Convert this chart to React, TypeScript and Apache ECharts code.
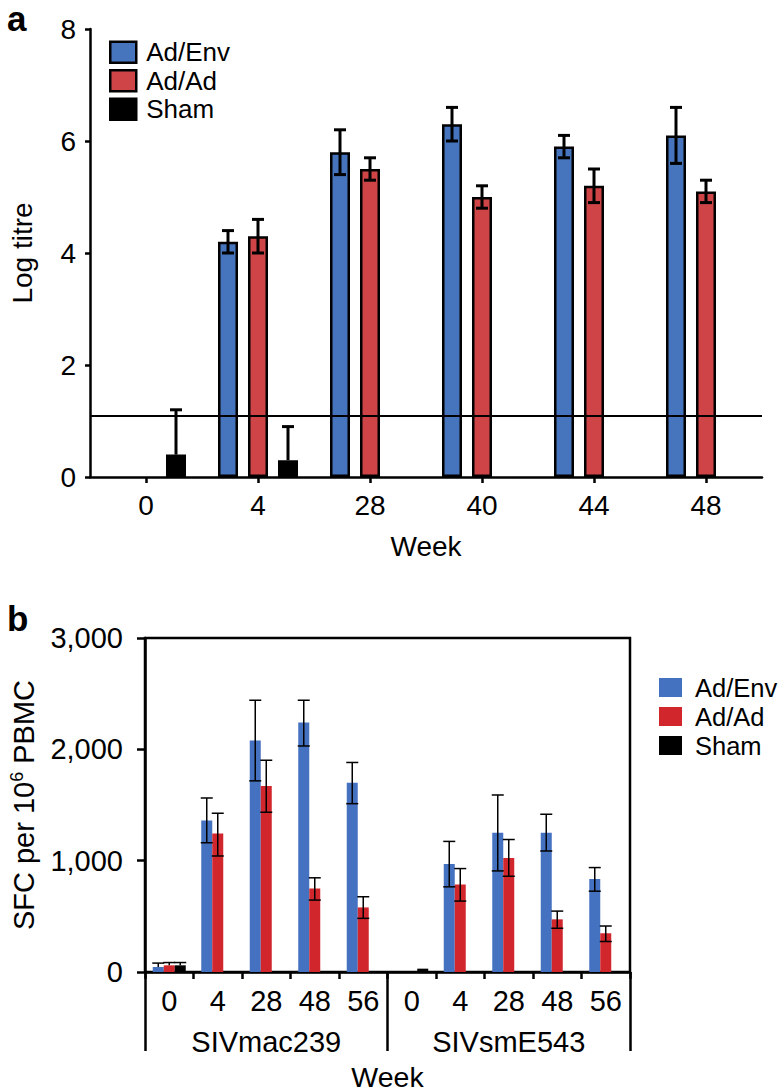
import React, { useEffect, useRef } from "react";
import * as echarts from "echarts";

// ---------- Panel a data ----------
const weeksA = ["0", "4", "28", "40", "44", "48"];
const adEnvA = [null, 4.2, 5.8, 6.3, 5.9, 6.1];
const adEnvAHi = [null, 4.4, 6.2, 6.6, 6.1, 6.6];
const adEnvALo = [null, 4.0, 5.4, 6.0, 5.7, 5.6];
const adAdA = [null, 4.3, 5.5, 5.0, 5.2, 5.1];
const adAdAHi = [null, 4.6, 5.7, 5.2, 5.5, 5.3];
const adAdALo = [null, 4.0, 5.3, 4.8, 4.9, 4.9];
const shamA = [0.4, 0.3, null, null, null, null];
const shamAHi = [1.2, 0.9, null, null, null, null];
const shamALo = [0.4, 0.3, null, null, null, null];
const thresholdA = 1.1;
const yTicksA = { min: 0, max: 8, interval: 2 };

// ---------- Panel b data ----------
const weeksB = ["0", "4", "28", "48", "56", "0", "4", "28", "48", "56"];
const strainsB = ["SIVmac239", "SIVsmE543"];
const adEnvB = [45, 1360, 2080, 2240, 1700, null, 970, 1250, 1250, 835];
const adEnvBHi = [80, 1563, 2441, 2441, 1882, null, 1173, 1590, 1417, 938];
const adEnvBLo = [45, 1161, 1717, 2030, 1512, null, 765, 908, 1087, 726];
const adAdB = [60, 1245, 1670, 750, 580, null, 785, 1025, 473, 348];
const adAdBHi = [85, 1426, 1902, 846, 676, null, 929, 1190, 547, 413];
const adAdBLo = [60, 1042, 1435, 646, 482, null, 637, 860, 393, 274];
const shamB = [60, null, null, null, null, 30, null, null, null, null];
const shamBHi = [85, null, null, null, null, 30, null, null, null, null];
const shamBLo = [60, null, null, null, null, 30, null, null, null, null];
const yTicksB = { min: 0, max: 3000, interval: 1000 };

const seriesNames = ["Ad/Env", "Ad/Ad", "Sham"];

const FONT = "'Liberation Sans', Arial, Helvetica, sans-serif";
const BLUE_A = "#4674BD";
const RED_A = "#CE4447";
const BLUE_B = "#4571C1";
const RED_B = "#D1262C";
const BLACK = "#000000";

function errData(vals: (number | null)[], hi: (number | null)[], lo: (number | null)[]) {
  const out: number[][] = [];
  vals.forEach((v, i) => {
    if (v != null && hi[i] != null && lo[i] != null) out.push([i, hi[i] as number, lo[i] as number, v]);
  });
  return out;
}

function makeErr(offset: number, cap: number, lw: number) {
  return (params: any, api: any) => {
    const i = api.value(0);
    const hi = api.value(1);
    const lo = api.value(2);
    const v = api.value(3);
    const top = api.coord([i, hi]);
    const bot = api.coord([i, lo]);
    const x = top[0] + offset;
    const style = { stroke: "#000", lineWidth: lw };
    const children: any[] = [];
    if (hi > v || lo < v) {
      children.push({ type: "line", shape: { x1: x, y1: top[1], x2: x, y2: bot[1] }, style });
    }
    if (hi > v) children.push({ type: "line", shape: { x1: x - cap, y1: top[1], x2: x + cap, y2: top[1] }, style });
    if (lo < v) children.push({ type: "line", shape: { x1: x - cap, y1: bot[1], x2: x + cap, y2: bot[1] }, style });
    return { type: "group", children };
  };
}

export default function App() {
  const ref = useRef<HTMLDivElement>(null);
  useEffect(() => {
    if (!ref.current) return;
    const chart = echarts.init(ref.current, null, { renderer: "svg" });
    const axisLineStyle = { color: "#000", width: 2.5 };
    const barBorderA = { borderColor: "#000", borderWidth: 2.5 };
    const barWA = 20;
    const offA = [-30, 0, 30];
    const offB = [-11, 0, 11];

    const option: any = {
      animation: false,
      textStyle: { fontFamily: FONT, color: "#000" },
      graphic: [
        { type: "text", left: 7, top: 1, style: { text: "a", font: `bold 35px ${FONT}`, fill: "#000" } },
        { type: "text", left: 7, top: 601, style: { text: "b", font: `bold 35px ${FONT}`, fill: "#000" } },
      ],
      legend: [
        {
          left: 109,
          top: 38,
          padding: 0,
          orient: "vertical",
          itemWidth: 26,
          itemHeight: 21,
          itemGap: 0,
          icon: "rect",
          selectedMode: false,
          textStyle: { fontSize: 26, lineHeight: 28.5, color: "#000", fontFamily: FONT, padding: [0, 0, 0, 5] },
          data: [
            { name: seriesNames[0], itemStyle: { color: BLUE_A, borderColor: "#000", borderWidth: 2.5 } },
            { name: seriesNames[1], itemStyle: { color: RED_A, borderColor: "#000", borderWidth: 2.5 } },
            { name: seriesNames[2], itemStyle: { color: BLACK, borderColor: "#000", borderWidth: 2.5 } },
          ],
        },
        {
          left: 659,
          top: 673,
          padding: 0,
          orient: "vertical",
          itemWidth: 23,
          itemHeight: 19,
          itemGap: 0,
          icon: "rect",
          selectedMode: false,
          textStyle: { fontSize: 25.5, lineHeight: 29, color: "#000", fontFamily: FONT, padding: [0, 0, 0, 8] },
          data: [
            { name: seriesNames[0], itemStyle: { color: BLUE_B, borderWidth: 0 } },
            { name: seriesNames[1], itemStyle: { color: RED_B, borderWidth: 0 } },
            { name: seriesNames[2], itemStyle: { color: BLACK, borderWidth: 0 } },
          ],
        },
      ],
      grid: [
        { left: 89, top: 29, width: 673, height: 448 },
        {
          left: 143,
          top: 638,
          width: 487,
          height: 336,
          show: true,
          borderColor: "#000",
          borderWidth: 2.5,
          backgroundColor: "transparent",
        },
      ],
      xAxis: [
        {
          type: "category",
          gridIndex: 0,
          data: weeksA,
          axisLine: { lineStyle: axisLineStyle },
          axisTick: { show: true, alignWithLabel: true, length: 6, lineStyle: { width: 2.5, color: "#000" } },
          axisLabel: { fontSize: 28, color: "#000", margin: 14, fontFamily: FONT },
          name: "Week",
          nameLocation: "middle",
          nameGap: 55,
          nameTextStyle: { fontSize: 28, color: "#000", fontFamily: FONT },
        },
        {
          type: "category",
          gridIndex: 1,
          data: weeksB,
          axisLine: { lineStyle: axisLineStyle },
          axisTick: { show: true, interval: 0, length: 7, lineStyle: { width: 2.5, color: "#000" } },
          axisLabel: { interval: 0, fontSize: 29, color: "#000", margin: 14, fontFamily: FONT },
        },
        {
          type: "category",
          gridIndex: 1,
          position: "bottom",
          offset: 0,
          data: strainsB,
          axisLine: { show: true, lineStyle: { color: "rgba(0,0,0,0)", width: 0 } },
          axisTick: { show: true, interval: 0, length: 79, lineStyle: { width: 2.5, color: "#000" } },
          axisLabel: { interval: 0, fontSize: 29, color: "#000", margin: 55, fontFamily: FONT },
          name: "Week",
          nameLocation: "middle",
          nameGap: 90,
          nameTextStyle: { fontSize: 28.5, color: "#000", fontFamily: FONT },
        },
      ],
      yAxis: [
        {
          type: "value",
          gridIndex: 0,
          ...yTicksA,
          splitLine: { show: false },
          axisLine: { show: true, lineStyle: axisLineStyle },
          axisTick: { show: true, length: 5, lineStyle: { width: 2.5, color: "#000" } },
          axisLabel: { fontSize: 28, color: "#000", margin: 14, fontFamily: FONT },
          name: "Log titre",
          nameLocation: "middle",
          nameGap: 54,
          nameTextStyle: { fontSize: 28, color: "#000", fontFamily: FONT },
        },
        {
          type: "value",
          gridIndex: 1,
          ...yTicksB,
          splitLine: { show: false },
          axisLine: { show: true, lineStyle: axisLineStyle },
          axisTick: { show: true, length: 8, lineStyle: { width: 2.5, color: "#000" } },
          axisLabel: {
            fontSize: 29,
            color: "#000",
            margin: 22,
            fontFamily: FONT,
            formatter: (v: number) => v.toLocaleString("en-US"),
          },
          name: "{a|SFC per 10}{s|6}{a| PBMC}",
          nameLocation: "middle",
          nameGap: 106,
          nameTextStyle: {
            fontFamily: FONT,
            color: "#000",
            rich: {
              a: { fontSize: 29, fontFamily: FONT, color: "#000" },
              s: { fontSize: 18, fontFamily: FONT, color: "#000", verticalAlign: "top", padding: [0, 0, 13, 0] },
            },
          },
        },
      ],
      series: [
        // Panel a bars
        {
          name: seriesNames[0],
          type: "bar",
          xAxisIndex: 0,
          yAxisIndex: 0,
          data: adEnvA,
          barWidth: barWA,
          barGap: "50%",
          itemStyle: { color: BLUE_A, ...barBorderA },
        },
        {
          name: seriesNames[1],
          type: "bar",
          xAxisIndex: 0,
          yAxisIndex: 0,
          data: adAdA,
          barWidth: barWA,
          barGap: "50%",
          itemStyle: { color: RED_A, ...barBorderA },
        },
        {
          name: seriesNames[2],
          type: "bar",
          xAxisIndex: 0,
          yAxisIndex: 0,
          data: shamA,
          barWidth: barWA,
          barGap: "50%",
          itemStyle: { color: BLACK, ...barBorderA },
          markLine: {
            silent: true,
            symbol: "none",
            label: { show: false },
            lineStyle: { color: "#000", width: 2.2, type: "solid" },
            data: [{ yAxis: thresholdA }],
          },
        },
        // Panel a error bars
        {
          type: "custom",
          xAxisIndex: 0,
          yAxisIndex: 0,
          z: 5,
          renderItem: makeErr(offA[0], 6, 3),
          encode: { x: 0, y: [1, 2] },
          data: errData(adEnvA, adEnvAHi, adEnvALo),
        },
        {
          type: "custom",
          xAxisIndex: 0,
          yAxisIndex: 0,
          z: 5,
          renderItem: makeErr(offA[1], 6, 3),
          encode: { x: 0, y: [1, 2] },
          data: errData(adAdA, adAdAHi, adAdALo),
        },
        {
          type: "custom",
          xAxisIndex: 0,
          yAxisIndex: 0,
          z: 5,
          renderItem: makeErr(offA[2], 6, 3),
          encode: { x: 0, y: [1, 2] },
          data: errData(shamA, shamAHi, shamALo),
        },
        // Panel b bars
        {
          name: seriesNames[0],
          type: "bar",
          xAxisIndex: 1,
          yAxisIndex: 1,
          data: adEnvB,
          barWidth: 11,
          barGap: "0%",
          itemStyle: { color: BLUE_B },
        },
        {
          name: seriesNames[1],
          type: "bar",
          xAxisIndex: 1,
          yAxisIndex: 1,
          data: adAdB,
          barWidth: 11,
          barGap: "0%",
          itemStyle: { color: RED_B },
        },
        {
          name: seriesNames[2],
          type: "bar",
          xAxisIndex: 1,
          yAxisIndex: 1,
          data: shamB,
          barWidth: 11,
          barGap: "0%",
          itemStyle: { color: BLACK },
        },
        // Panel b error bars
        {
          type: "custom",
          xAxisIndex: 1,
          yAxisIndex: 1,
          z: 5,
          renderItem: makeErr(offB[0], 6, 1.5),
          encode: { x: 0, y: [1, 2] },
          data: errData(adEnvB, adEnvBHi, adEnvBLo),
        },
        {
          type: "custom",
          xAxisIndex: 1,
          yAxisIndex: 1,
          z: 5,
          renderItem: makeErr(offB[1], 6, 1.5),
          encode: { x: 0, y: [1, 2] },
          data: errData(adAdB, adAdBHi, adAdBLo),
        },
        {
          type: "custom",
          xAxisIndex: 1,
          yAxisIndex: 1,
          z: 5,
          renderItem: makeErr(offB[2], 6, 1.5),
          encode: { x: 0, y: [1, 2] },
          data: errData(shamB, shamBHi, shamBLo),
        },
      ],
    };
    chart.setOption(option);
    return () => chart.dispose();
  }, []);
  return (
    <div
      ref={ref}
      style={{ position: "absolute", left: 0, top: 0, width: 781, height: 1092, background: "#fff" }}
    />
  );
}
